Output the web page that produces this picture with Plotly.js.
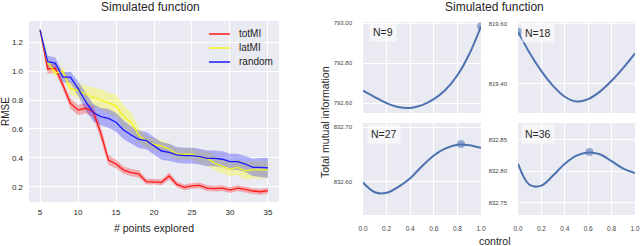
<!DOCTYPE html>
<html>
<head>
<meta charset="utf-8">
<script src="https://cdn.plot.ly/plotly-3.0.1.min.js"></script>
<style>html,body{margin:0;padding:0;background:#fff;}#chart{width:640px;height:246px;}</style>
</head>
<body>
<div id="chart"></div>
<script>
// ---- Left chart data ----
const pointsExplored = [5,6,7,8,9,10,11,12,13,14,15,16,17,18,19,20,21,22,23,24,25,26,27,28,29,30,31,32,33,34,35];
const totMI = [1.285,1.015,1.02,0.905,0.777,0.73,0.743,0.72,0.57,0.385,0.357,0.315,0.297,0.288,0.235,0.235,0.23,0.274,0.216,0.195,0.205,0.209,0.19,0.187,0.19,0.177,0.19,0.182,0.17,0.165,0.172];
const totMIStd = [0.01,0.035,0.03,0.03,0.035,0.035,0.035,0.04,0.045,0.035,0.03,0.025,0.025,0.025,0.02,0.02,0.02,0.025,0.02,0.02,0.02,0.02,0.02,0.02,0.02,0.02,0.02,0.02,0.02,0.02,0.02];
const latMI = [1.285,1.06,0.99,0.997,0.88,0.865,0.84,0.82,0.805,0.78,0.76,0.685,0.643,0.558,0.512,0.493,0.482,0.461,0.426,0.426,0.426,0.403,0.396,0.362,0.343,0.322,0.334,0.309,0.316,0.316,0.316];
const latMIStd = [0.01,0.03,0.03,0.03,0.04,0.05,0.06,0.07,0.07,0.07,0.08,0.08,0.07,0.05,0.04,0.04,0.04,0.04,0.04,0.04,0.04,0.045,0.05,0.05,0.05,0.05,0.055,0.06,0.06,0.06,0.06];
const randomSel = [1.285,1.066,1.055,0.958,0.958,0.88,0.79,0.713,0.685,0.673,0.646,0.593,0.558,0.528,0.519,0.482,0.447,0.438,0.42,0.415,0.415,0.408,0.396,0.396,0.39,0.373,0.373,0.357,0.334,0.334,0.33];
const randomStd = [0.01,0.04,0.04,0.035,0.04,0.05,0.06,0.06,0.06,0.065,0.065,0.065,0.06,0.06,0.06,0.06,0.06,0.06,0.055,0.055,0.055,0.055,0.055,0.055,0.055,0.055,0.055,0.055,0.06,0.065,0.07];
const seriesNames = ['totMI','latMI','random'];
const xTicks = [5,10,15,20,25,30,35];
const yTicks = [0.2,0.4,0.6,0.8,1.0,1.2];

// ---- Right panels data ----
const control = [0,0.1,0.2,0.3,0.4,0.5,0.6,0.7,0.8,0.9,1.0];
const tmiN9  = [792.663,792.631,792.601,792.581,792.577,792.591,792.621,792.668,792.740,792.845,792.985];
const tmiN18 = [819.573,819.502,819.442,819.393,819.357,819.341,819.349,819.374,819.410,819.453,819.501];
const tmiN27 = [832.598,832.580,832.579,832.590,832.606,832.628,832.648,832.661,832.668,832.667,832.662];
const tmiN36 = [832.812,832.778,832.777,832.793,832.812,832.825,832.830,832.827,832.816,832.804,832.797];
const bestX = [1.0, 0.0, 0.83, 0.61];
const bestY = [792.985, 819.573, 832.669, 832.8305];
const panelLabels = ['N=9','N=18','N=27','N=36'];
const panelTicks = [[792.6,792.8,793.0],[819.4,819.6],[832.6,832.7],[832.75,832.80,832.85]];
const panelRanges = [[792.5515,793.0066],[819.303,819.605],[832.538,832.708],[832.730,832.877]];
const controlTicks = [0,0.2,0.4,0.6,0.8,1.0];

const W = 640, H = 246;
const px = v => v / W;
const py = v => 1 - v / H;
const FONT = 'Liberation Sans, Arial, sans-serif';
const TXT = '#262626';
const BG = '#EAEAF2';

const lineColors = ['#ff1a1a','#f5f51a','#1a1aff'];
const bandColors = ['rgba(255,0,0,0.28)','rgba(255,255,0,0.3)','rgba(0,0,255,0.27)'];
const means = [totMI, latMI, randomSel];
const stds = [totMIStd, latMIStd, randomStd];

const traces = [];
for (let i = 0; i < 3; i++) {
  const up = means[i].map((v, k) => v + stds[i][k]);
  const lo = means[i].map((v, k) => v - stds[i][k]);
  traces.push({
    x: pointsExplored.concat(pointsExplored.slice().reverse()),
    y: up.concat(lo.slice().reverse()),
    fill: 'toself', fillcolor: bandColors[i], line: {width: 0, color: 'rgba(0,0,0,0)'},
    mode: 'lines', showlegend: false, hoverinfo: 'skip', xaxis: 'x', yaxis: 'y'
  });
}
for (let i = 0; i < 3; i++) {
  traces.push({
    x: pointsExplored, y: means[i], mode: 'lines', name: seriesNames[i], showlegend: false,
    line: {color: lineColors[i], width: 1.3}, xaxis: 'x', yaxis: 'y'
  });
}

const panelData = [tmiN9, tmiN18, tmiN27, tmiN36];
for (let p = 0; p < 4; p++) {
  const ax = String(p + 2);
  traces.push({
    x: control, y: panelData[p], mode: 'lines', line: {color: '#4C72B0', width: 2, shape: 'spline'},
    showlegend: false, xaxis: 'x' + ax, yaxis: 'y' + ax
  });
  traces.push({
    x: [bestX[p]], y: [bestY[p]], mode: 'markers',
    marker: {color: 'rgba(76,114,176,0.55)', size: 8, line: {width: 0}},
    showlegend: false, xaxis: 'x' + ax, yaxis: 'y' + ax
  });
}

const layout = {
  width: W, height: H,
  margin: {l: 0, r: 0, t: 0, b: 0},
  paper_bgcolor: '#ffffff', plot_bgcolor: BG,
  font: {family: FONT, color: TXT},
  showlegend: false,
  xaxis: {domain: [px(29), px(279)], range: [3.55, 36.45], tickvals: xTicks, ticktext: xTicks.map(String),
    showgrid: true, gridcolor: '#ffffff', gridwidth: 1, zeroline: false, showline: false,
    ticks: '', tickfont: {size: 8, color: TXT}, ticklabelstandoff: 4,
    title: {text: '# points explored', font: {size: 10.5, color: TXT}, standoff: 8}, anchor: 'y'},
  yaxis: {domain: [py(202), py(21)], range: [0.094, 1.347], tickvals: yTicks, ticktext: yTicks.map(v => v.toFixed(1)),
    showgrid: true, gridcolor: '#ffffff', gridwidth: 1, zeroline: false, showline: false,
    ticks: '', tickfont: {size: 8, color: TXT}, ticklabelstandoff: 5,
    title: {text: 'RMSE', font: {size: 10, color: TXT}, standoff: 7}, anchor: 'x'},
  shapes: [],
  annotations: [
    {text: 'Simulated function', x: px(150), y: py(7), xref: 'paper', yref: 'paper', showarrow: false,
     font: {size: 12, color: TXT}, xanchor: 'center', yanchor: 'middle'},
    {text: 'Simulated function', x: px(494), y: py(7), xref: 'paper', yref: 'paper', showarrow: false,
     font: {size: 12, color: TXT}, xanchor: 'center', yanchor: 'middle'},
    {text: 'control', x: px(495), y: py(241), xref: 'paper', yref: 'paper', showarrow: false,
     font: {size: 10.5, color: TXT}, xanchor: 'center', yanchor: 'middle'},
    {text: 'Total mutual information', x: px(325), y: py(122), xref: 'paper', yref: 'paper', showarrow: false,
     font: {size: 10.5, color: TXT}, xanchor: 'center', yanchor: 'middle', textangle: -90}
  ]
};

// compact legend (matplotlib-style spacing)
for (let i = 0; i < 3; i++) {
  const yy = 34 + 14 * i;
  layout.shapes.push({type: 'line', xref: 'paper', yref: 'paper', x0: px(209), x1: px(230), y0: py(yy), y1: py(yy),
    line: {color: lineColors[i], width: 1.5}});
  layout.annotations.push({text: seriesNames[i], x: px(237), y: py(yy), xref: 'paper', yref: 'paper',
    showarrow: false, xanchor: 'left', yanchor: 'middle', font: {size: 10, color: TXT}});
}

const xDom = [[px(363), px(481)], [px(518), px(635)], [px(363), px(481)], [px(518), px(635)]];
const yDom = [[py(113), py(22)], [py(113), py(22)], [py(215), py(123)], [py(215), py(123)]];
const labelPos = [[383, 32], [538, 33], [384, 134], [538, 134]];
for (let p = 0; p < 4; p++) {
  const ax = String(p + 2);
  const bottom = p >= 2;
  layout['xaxis' + ax] = {domain: xDom[p], range: [0, 1], anchor: 'y' + ax,
    tickvals: controlTicks, ticktext: controlTicks.map(v => v.toFixed(1)), showticklabels: bottom,
    showgrid: true, gridcolor: '#ffffff', gridwidth: 1, zeroline: false, showline: false, ticks: '',
    tickfont: {size: 6.5, color: '#444'}, ticklabelstandoff: 8};
  layout['yaxis' + ax] = {domain: yDom[p], range: panelRanges[p], anchor: 'x' + ax,
    tickvals: panelTicks[p], ticktext: panelTicks[p].map(v => v.toFixed(2)),
    showgrid: true, gridcolor: '#ffffff', gridwidth: 1, zeroline: false, showline: false, ticks: '',
    tickfont: {size: 6, color: '#444'}, ticklabelstandoff: 10};
  layout.annotations.push({text: panelLabels[p], x: px(labelPos[p][0]), y: py(labelPos[p][1]),
    xref: 'paper', yref: 'paper', showarrow: false, xanchor: 'center', yanchor: 'middle',
    font: {size: 10.5, color: TXT}, bgcolor: 'rgba(255,255,255,0.55)', borderpad: 3,
    bordercolor: 'rgba(255,255,255,0)', borderwidth: 1});
}

Plotly.newPlot('chart', traces, layout, {staticPlot: true, displayModeBar: false});
</script>
</body>
</html>
